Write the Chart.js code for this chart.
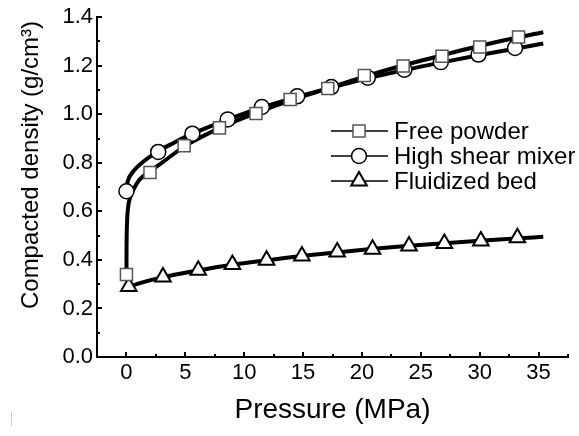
<!DOCTYPE html>
<html>
<head>
<meta charset="utf-8">
<script src="https://cdn.jsdelivr.net/npm/chart.js@4/dist/chart.umd.min.js"></script>
<style>
html,body{margin:0;padding:0;background:#fff;}
#wrap{width:579px;height:436px;position:relative;}
</style>
</head>
<body>
<div id="wrap"><canvas id="c" width="579" height="436"></canvas></div>
<script>
// ---- Data ----
const xTickValues = [0, 5, 10, 15, 20, 25, 30, 35];
const yTickValues = [0, 0.2, 0.4, 0.6, 0.8, 1.0, 1.2, 1.4];
const seriesLabels = ['Free powder', 'High shear mixer', 'Fluidized bed'];

// measured points (markers)
const freePowderP = [0, 2.0, 4.9, 7.9, 11.0, 13.9, 17.1, 20.2, 23.5, 26.8, 30.0, 33.3];
const freePowderD = [0.34, 0.76, 0.87, 0.944, 1.003, 1.061, 1.106, 1.16, 1.199, 1.239, 1.277, 1.318];
const highShearP = [0, 2.7, 5.6, 8.6, 11.5, 14.5, 17.4, 20.5, 23.6, 26.7, 29.9, 33.0];
const highShearD = [0.683, 0.845, 0.92, 0.979, 1.03, 1.074, 1.112, 1.151, 1.184, 1.215, 1.246, 1.273];
const fluidBedP = [0.2, 3.1, 6.1, 9.0, 11.9, 14.9, 17.9, 20.9, 24.0, 27.0, 30.1, 33.2];
const fluidBedD = [0.29, 0.33, 0.357, 0.381, 0.399, 0.416, 0.433, 0.444, 0.457, 0.468, 0.478, 0.491];

// fitted curves
const freeFitP = [0, 0.01, 0.05, 0.15, 0.3, 0.6, 1.1, 2, 3, 5, 8, 11, 14, 17, 20, 23, 26, 29, 32, 35.4];
const freeFitD = [0.34, 0.45, 0.55, 0.62, 0.655, 0.69, 0.73, 0.765, 0.80, 0.87, 0.945, 1.005, 1.058, 1.105, 1.152, 1.195, 1.233, 1.27, 1.304, 1.338];
const highFitP = [0, 0.05, 0.15, 0.5, 1.2, 2.6, 4, 5.6, 8.6, 11.5, 14.5, 17.4, 20.5, 23.6, 26.7, 29.9, 33, 35.4];
const highFitD = [0.685, 0.71, 0.73, 0.76, 0.795, 0.845, 0.882, 0.92, 0.978, 1.028, 1.072, 1.11, 1.148, 1.182, 1.213, 1.243, 1.27, 1.292];
const fluidFitP = [0.2, 1, 3, 6, 9, 12, 15, 18, 21, 24, 27, 30, 33, 35.4];
const fluidFitD = [0.288, 0.302, 0.328, 0.356, 0.38, 0.399, 0.417, 0.432, 0.446, 0.458, 0.469, 0.479, 0.488, 0.495];

const xTitle = 'Pressure (MPa)';
const yTitle = 'Compacted density (g/cm\u00B3)';

const toXY = (xs, ys) => xs.map((x, i) => ({x: x, y: ys[i]}));
const FONT = 'Arial, "Liberation Sans", Helvetica, sans-serif';

const markerStyles = [
  {pointStyle: 'rect', radius: 8.5, borderColor: '#555', borderWidth: 1.5},
  {pointStyle: 'circle', radius: 7.5, borderColor: '#000', borderWidth: 1.5},
  {pointStyle: 'triangle', radius: 9, borderColor: '#000', borderWidth: 2}
];

function curveDs(xs, ys) {
  return {
    type: 'scatter', data: toXY(xs, ys), showLine: true,
    borderColor: '#000', borderWidth: 4, pointRadius: 0, pointHoverRadius: 0,
    cubicInterpolationMode: 'monotone', order: 2, isCurve: true
  };
}
function markerDs(label, xs, ys, st) {
  return {
    type: 'scatter', label: label, data: toXY(xs, ys), showLine: false,
    pointStyle: st.pointStyle, pointRadius: st.radius, pointHoverRadius: st.radius,
    pointBackgroundColor: '#fff', pointBorderColor: st.borderColor,
    pointBorderWidth: st.borderWidth, order: 1
  };
}

const bgPlugin = {
  id: 'bg',
  beforeDraw(chart) {
    const ctx = chart.ctx;
    ctx.save(); ctx.fillStyle = '#fff';
    ctx.fillRect(0, 0, chart.width, chart.height); ctx.restore();
  }
};

const decorPlugin = {
  id: 'decor',
  afterDraw(chart) {
    const ctx = chart.ctx;
    const xs = chart.scales.x, ys = chart.scales.y;
    const area = chart.chartArea;
    ctx.save();
    ctx.strokeStyle = '#000'; ctx.lineWidth = 2;
    // inward ticks, x
    for (let v = xs.min; v <= xs.max + 1e-9; v += 2.5) {
      const px = Math.round(xs.getPixelForValue(v));
      const major = Math.abs(v / 5 - Math.round(v / 5)) < 1e-6;
      ctx.beginPath(); ctx.moveTo(px, area.bottom); ctx.lineTo(px, area.bottom - (major ? 5 : 3)); ctx.stroke();
    }
    for (let v = ys.min; v <= ys.max + 1e-9; v += 0.1) {
      const py = Math.round(ys.getPixelForValue(v));
      const major = Math.abs(v / 0.2 - Math.round(v / 0.2)) < 1e-6;
      ctx.beginPath(); ctx.moveTo(area.left, py); ctx.lineTo(area.left + (major ? 5 : 3), py); ctx.stroke();
    }
    // titles
    ctx.fillStyle = '#000';
    ctx.textAlign = 'center'; ctx.textBaseline = 'middle';
    ctx.font = '28px ' + FONT;
    ctx.fillText(xTitle, (area.left + area.right) / 2, 410);
    ctx.save();
    ctx.translate(31, 165); ctx.rotate(-Math.PI / 2);
    ctx.font = '24px ' + FONT;
    ctx.fillText(yTitle, 0, 0);
    ctx.restore();
    // legend
    const lx0 = 331, lx1 = 388, lmx = 359, ltx = 394;
    const rows = [131, 156, 181];
    ctx.font = '24px ' + FONT;
    ctx.textAlign = 'left';
    chart.data.datasets.filter(d => !d.isCurve).forEach((d, i) => {
      const y = rows[i];
      ctx.strokeStyle = '#000'; ctx.lineWidth = 1.5;
      ctx.beginPath(); ctx.moveTo(lx0, y); ctx.lineTo(lx1, y); ctx.stroke();
      ctx.fillStyle = '#fff'; ctx.strokeStyle = d.pointBorderColor; ctx.lineWidth = d.pointBorderWidth;
      Chart.helpers.drawPoint(ctx, {pointStyle: d.pointStyle, radius: d.pointRadius, rotation: 0, borderWidth: d.pointBorderWidth}, lmx, y);
      ctx.fillStyle = '#000';
      ctx.fillText(d.label, ltx, y + 1);
    });
    // faint scan mark at lower left
    ctx.strokeStyle = '#c8c8c8'; ctx.lineWidth = 1;
    ctx.beginPath(); ctx.moveTo(11.5, 412); ctx.lineTo(11.5, 426); ctx.stroke();
    ctx.restore();
  }
};

new Chart(document.getElementById('c'), {
  type: 'scatter',
  data: {
    datasets: [
      curveDs(freeFitP, freeFitD),
      curveDs(highFitP, highFitD),
      curveDs(fluidFitP, fluidFitD),
      markerDs(seriesLabels[0], freePowderP, freePowderD, markerStyles[0]),
      markerDs(seriesLabels[1], highShearP, highShearD, markerStyles[1]),
      markerDs(seriesLabels[2], fluidBedP, fluidBedD, markerStyles[2])
    ]
  },
  options: {
    responsive: false, animation: false, devicePixelRatio: 1,
    layout: {padding: {left: 0, right: 4, top: 17, bottom: 0}},
    plugins: {legend: {display: false}, tooltip: {enabled: false}},
    scales: {
      x: {
        type: 'linear', min: -2.5, max: 37.5,
        grid: {display: false, drawTicks: false},
        border: {display: true, color: '#000', width: 2},
        ticks: {color: '#000', font: {size: 22, family: FONT}, padding: 3, callback: v => String(v), maxRotation: 0},
        afterBuildTicks: s => { s.ticks = xTickValues.map(v => ({value: v})); },
        afterFit: s => { s.height = 79; }
      },
      y: {
        type: 'linear', min: 0, max: 1.4,
        grid: {display: false, drawTicks: false},
        border: {display: true, color: '#000', width: 2},
        ticks: {color: '#000', font: {size: 22, family: FONT}, padding: 4, callback: v => Number(v).toFixed(1)},
        afterBuildTicks: s => { s.ticks = yTickValues.map(v => ({value: v})); },
        afterFit: s => { s.width = 97; }
      }
    }
  },
  plugins: [bgPlugin, decorPlugin]
});
</script>
</body>
</html>
